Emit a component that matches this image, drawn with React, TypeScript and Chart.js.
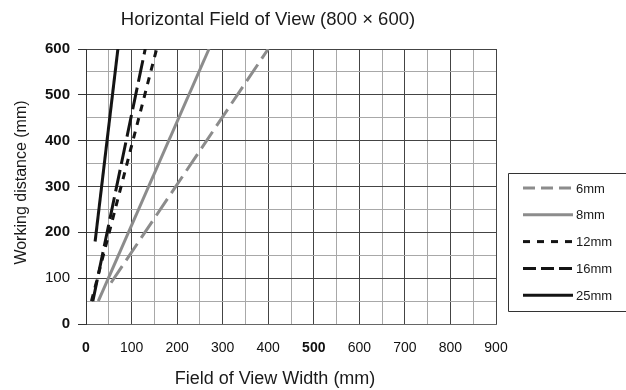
import React, { useEffect, useRef } from 'react';
import { Chart, registerables } from 'chart.js';

Chart.register(...registerables);

// ---- data ----
const seriesLabels = ['6mm', '8mm', '12mm', '16mm', '25mm'];
const fov6mm = [55, 400];
const wd6mm = [90, 600];
const fov8mm = [27, 270];
const wd8mm = [50, 600];
const fov12mm = [12, 155];
const wd12mm = [50, 600];
const fov16mm = [15, 130];
const wd16mm = [50, 600];
const fov25mm = [20, 70];
const wd25mm = [180, 600];
const xTickValues = [0, 100, 200, 300, 400, 500, 600, 700, 800, 900];
const yTickValues = [0, 100, 200, 300, 400, 500, 600];

const titleText = 'Horizontal Field of View (800 × 600)';
const xTitleText = 'Field of View Width (mm)';
const yTitleText = 'Working distance (mm)';

// ---- styles ----
const GRAY = '#8c8c8c';
const BLACK = '#141414';
const seriesColors = [GRAY, GRAY, BLACK, BLACK, BLACK];
const seriesDash: number[][] = [[20, 7], [], [7, 7], [22, 6], []];
const legendDash: number[][] = [[12, 6], [], [7, 7], [13, 5], []];
const FONT = '"Liberation Sans", Arial, sans-serif';
const MAJOR = '#444444';
const MINOR = '#a8a8a8';

const fovSeries = [fov6mm, fov8mm, fov12mm, fov16mm, fov25mm];
const wdSeries = [wd6mm, wd8mm, wd12mm, wd16mm, wd25mm];

const overlayPlugin = {
  id: 'overlay',
  afterDraw(chart: any) {
    const ctx = chart.ctx as CanvasRenderingContext2D;
    const area = chart.chartArea;
    ctx.save();
    ctx.fillStyle = '#1a1a1a';
    ctx.textAlign = 'center';
    ctx.textBaseline = 'middle';
    // main title
    ctx.font = `18.5px ${FONT}`;
    ctx.fillText(titleText, 268, 20);
    // x title
    ctx.font = `18px ${FONT}`;
    ctx.fillText(xTitleText, 275, 379);
    // y title
    ctx.font = `16px ${FONT}`;
    ctx.save();
    ctx.translate(22, (area.top + area.bottom) / 2 - 4);
    ctx.rotate(-Math.PI / 2);
    ctx.fillText(yTitleText, 0, 0);
    ctx.restore();

    // legend box
    const bx = 508.5, by = 173.5, bb = 311.5, br = chart.width + 2;
    ctx.strokeStyle = '#333';
    ctx.lineWidth = 1;
    ctx.setLineDash([]);
    ctx.beginPath();
    ctx.moveTo(br, by);
    ctx.lineTo(bx, by);
    ctx.lineTo(bx, bb);
    ctx.lineTo(br, bb);
    ctx.stroke();

    ctx.textAlign = 'left';
    ctx.font = `13px ${FONT}`;
    chart.data.datasets.forEach((ds: any, i: number) => {
      const y = 188 + i * 26.8;
      ctx.strokeStyle = ds.borderColor;
      ctx.lineWidth = 3;
      ctx.lineCap = 'butt';
      ctx.setLineDash(legendDash[i]);
      ctx.beginPath();
      ctx.moveTo(523, y);
      ctx.lineTo(573, y);
      ctx.stroke();
      ctx.setLineDash([]);
      ctx.fillStyle = '#1a1a1a';
      ctx.fillText(ds.label, 576, y + 1);
    });
    ctx.restore();
  },
};

export default function App() {
  const canvasRef = useRef<HTMLCanvasElement | null>(null);

  useEffect(() => {
    document.body.style.margin = '0';
    const canvas = canvasRef.current;
    if (!canvas) return;
    const datasets = seriesLabels.map((label, i) => ({
      label,
      data: fovSeries[i].map((x, j) => ({ x, y: wdSeries[i][j] })),
      showLine: true,
      borderColor: seriesColors[i],
      backgroundColor: seriesColors[i],
      borderWidth: 3,
      borderDash: seriesDash[i],
      pointRadius: 0,
      pointHoverRadius: 0,
      fill: false,
    }));

    const chart = new Chart(canvas, {
      type: 'scatter',
      data: { datasets },
      options: {
        animation: false,
        responsive: false,
        maintainAspectRatio: false,
        devicePixelRatio: 1,
        layout: { padding: { left: 0, top: 49, right: 130, bottom: 0 } },
        plugins: {
          legend: { display: false },
          title: { display: false },
          tooltip: { enabled: false },
        },
        scales: {
          x: {
            type: 'linear',
            min: 0,
            max: 900,
            afterFit: (scale: any) => {
              scale.height = 66;
            },
            ticks: {
              stepSize: 50,
              padding: 4,
              color: '#111',
              autoSkip: false,
              maxRotation: 0,
              font: (c: any) => ({
                family: FONT,
                size: 14,
                weight: c.tick && (c.tick.value === 0 || c.tick.value === 500) ? 'bold' : 'normal',
              }),
              callback: (v: any) => (xTickValues.includes(Number(v)) ? String(v) : ''),
            },
            grid: {
              color: (c: any) => (c.tick && c.tick.value % 100 === 0 ? MAJOR : MINOR),
              tickColor: 'transparent',
              tickLength: 12,
              lineWidth: 1,
            },
            border: { color: '#666', width: 1 },
          },
          y: {
            type: 'linear',
            min: 0,
            max: 600,
            afterFit: (scale: any) => {
              scale.width = 86;
            },
            ticks: {
              stepSize: 50,
              padding: 8,
              color: '#111',
              autoSkip: false,
              font: (c: any) => ({
                family: FONT,
                size: 15,
                weight: c.tick && c.tick.value === 100 ? 'normal' : 'bold',
              }),
              callback: (v: any) => (yTickValues.includes(Number(v)) ? String(v) : ''),
            },
            grid: {
              color: (c: any) => (c.tick && c.tick.value % 100 === 0 ? MAJOR : MINOR),
              tickColor: (c: any) => (c.tick && c.tick.value % 100 === 0 ? '#333' : 'transparent'),
              tickLength: 8,
              lineWidth: 1,
            },
            border: { color: '#333', width: 1 },
          },
        },
      },
      plugins: [overlayPlugin],
    });
    return () => chart.destroy();
  }, []);

  return (
    <div style={{ width: 626, height: 390 }}>
      <canvas ref={canvasRef} width={626} height={390} style={{ display: 'block' }} />
    </div>
  );
}
